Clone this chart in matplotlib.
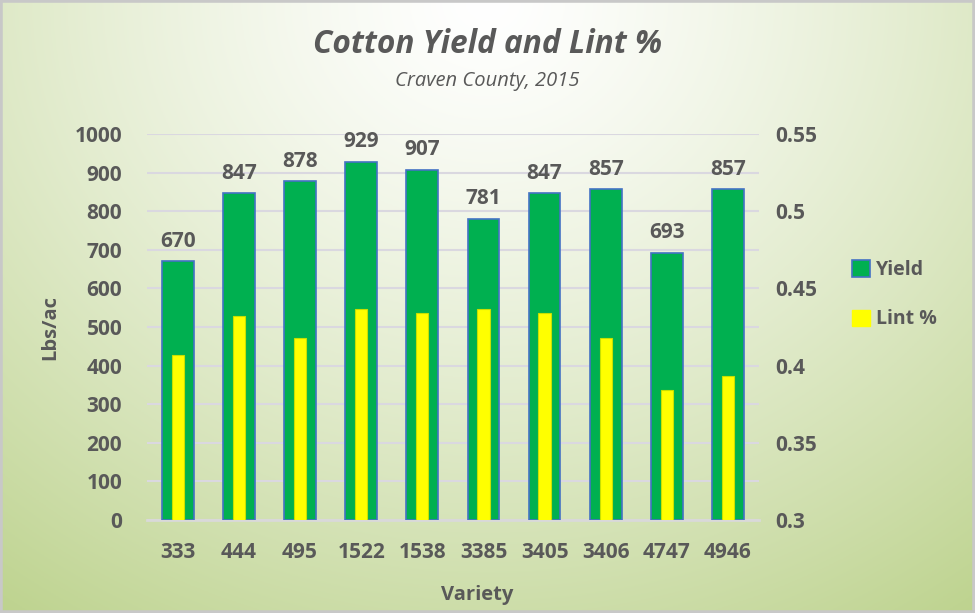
import numpy as np
import matplotlib.pyplot as plt
from matplotlib.patches import Patch, Rectangle

varieties = ['333', '444', '495', '1522', '1538', '3385', '3405', '3406', '4747', '4946']
yield_lbs = [670, 847, 878, 929, 907, 781, 847, 857, 693, 857]
lint_pct = [0.407, 0.432, 0.418, 0.437, 0.434, 0.437, 0.434, 0.418, 0.384, 0.393]

txt = '#595959'
plt.rcParams['font.family'] = ['Open Sans', 'DejaVu Sans']

fig = plt.figure(figsize=(9.75, 6.13), dpi=100)

# radial-ish background, white at top centre fading to light green
bg = fig.add_axes([0, 0, 1, 1], zorder=-10)
xx, yy = np.meshgrid(np.linspace(0, 1, 400), np.linspace(1, 0, 250))
d = np.sqrt(((xx - 0.5) / 0.7) ** 2 + ((yy - 1.0) / 1.0) ** 2)
t = np.clip(0.75 * d ** 1.3, 0, 1)[..., None]
white = np.array([255, 255, 255]) / 255
green = np.array([188, 210, 140]) / 255
bg.imshow(white * (1 - t) + green * t, aspect='auto', extent=[0, 1, 0, 1])
bg.axis('off')
fig.patches.append(Rectangle((0, 0), 1, 1, transform=fig.transFigure, fill=False,
                             edgecolor='#c8c8c8', linewidth=4))

ax = fig.add_axes([0.151, 0.152, 0.627, 0.629])
ax.patch.set_alpha(0)
x = np.arange(len(varieties))
bars = ax.bar(x, yield_lbs, width=0.52, color='#00B050', edgecolor='#4472C4', linewidth=1.2, zorder=3)
for xi, v in zip(x, yield_lbs):
    ax.text(xi, v + 25, str(v), ha='center', va='bottom', fontsize=15, fontweight='bold', color=txt)
ax.set_ylim(0, 1000)
ax.set_xlim(-0.5, 9.5)
ax.set_yticks(range(0, 1001, 100))
ax.set_xticks(x)
ax.set_xticklabels(varieties)
ax.grid(axis='y', color='#dad8e0', linewidth=1.5, zorder=0)
ax.set_axisbelow(True)
for s in ['top', 'right', 'left']:
    ax.spines[s].set_visible(False)
ax.spines['bottom'].set_color('#d9d9d9')
ax.spines['bottom'].set_linewidth(2)
ax.tick_params(axis='y', length=0, pad=18, labelsize=15, labelcolor=txt)
ax.tick_params(axis='x', length=0, pad=16, labelsize=15, labelcolor=txt)
for lb in ax.get_xticklabels() + ax.get_yticklabels():
    lb.set_fontweight('bold')
ax.set_ylabel('Lbs/ac', fontsize=14.5, color=txt, fontweight='bold')
ax.yaxis.set_label_coords(-0.142, 0.5)
ax.set_xlabel('Variety', fontsize=14.5, color=txt, fontweight='bold')
ax.xaxis.set_label_coords(0.539, -0.168)

ax2 = ax.twinx()
ax2.bar(x, lint_pct, width=0.2, color='#FFFF00', edgecolor='#c8e000', linewidth=0.8, zorder=4)
ax2.set_ylim(0.3, 0.55)
ax2.set_yticks([0.3, 0.35, 0.4, 0.45, 0.5, 0.55])
ax2.set_yticklabels(['0.3', '0.35', '0.4', '0.45', '0.5', '0.55'])
for s in ax2.spines.values():
    s.set_visible(False)
ax2.tick_params(axis='y', length=0, pad=12, labelsize=15, labelcolor=txt)
for lb in ax2.get_yticklabels():
    lb.set_fontweight('bold')

fig.text(0.500, 0.9135, 'Cotton Yield and Lint %', ha='center', va='baseline', fontsize=22.8,
         fontstyle='italic', fontweight='bold', color=txt)
fig.text(0.500, 0.859, 'Craven County, 2015', ha='center', va='baseline', fontsize=14.5,
         fontstyle='italic', color=txt)

handles = [Patch(facecolor='#00B050', edgecolor='#4472C4', linewidth=1.2, label='Yield'),
           Patch(facecolor='#FFFF00', edgecolor='#FFFF00', label='Lint %')]
leg = fig.legend(handles=handles, loc='center left', bbox_to_anchor=(0.864, 0.519), frameon=False,
                 handlelength=0.9, handleheight=0.9, handletextpad=0.35, labelspacing=1.5,
                 borderpad=0, prop={'size': 14, 'weight': 'bold'})
for tx in leg.get_texts():
    tx.set_color(txt)

fig.savefig('out.png', dpi=100)
